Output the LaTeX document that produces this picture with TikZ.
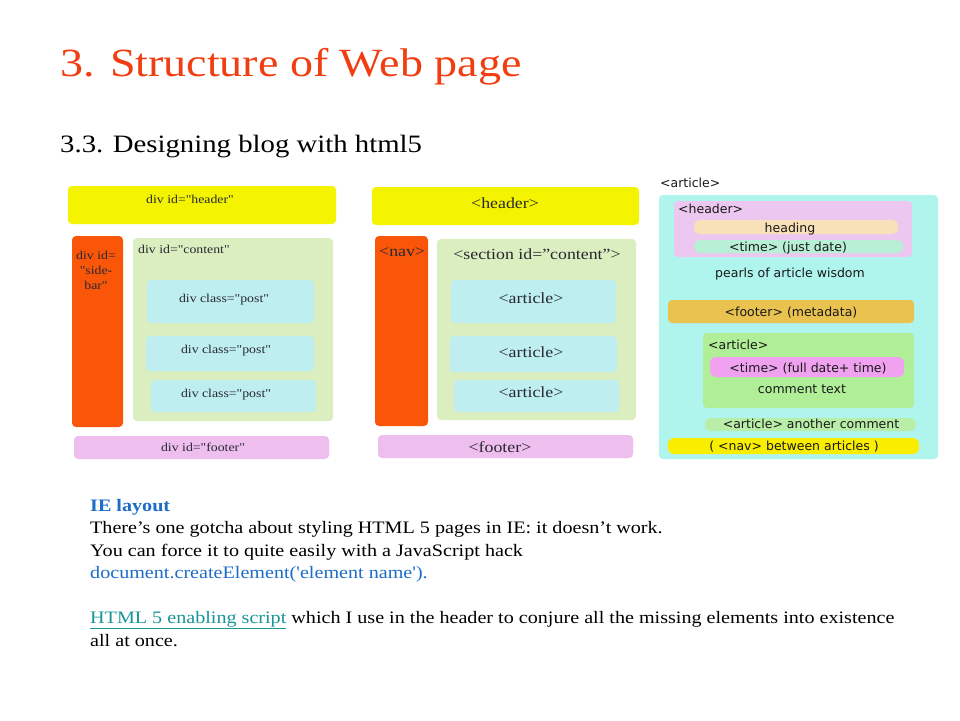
\documentclass[tikz,border=0pt]{standalone}
\usepackage{fontspec}
\setmainfont{Liberation Serif}
\newfontfamily\geo[FakeStretch=1.15]{Liberation Serif}
\newfontfamily\verd{DejaVu Sans}
\usepackage{xcolor}
\definecolor{titlered}{RGB}{240,62,18}
\definecolor{linkblue}{RGB}{30,108,200}
\definecolor{linkteal}{RGB}{24,150,150}
\definecolor{ink}{RGB}{40,40,48}
\definecolor{yel}{RGB}{244,244,0}
\definecolor{navyel}{RGB}{250,238,0}
\definecolor{orng}{RGB}{250,86,10}
\definecolor{lgreen}{RGB}{218,238,192}
\definecolor{lcyan}{RGB}{190,238,240}
\definecolor{lpink}{RGB}{238,190,238}
\definecolor{acyan}{RGB}{176,244,238}
\definecolor{hpink}{RGB}{236,200,240}
\definecolor{peach}{RGB}{248,224,184}
\definecolor{mint}{RGB}{184,240,214}
\definecolor{gold}{RGB}{234,194,80}
\definecolor{cgreen}{RGB}{176,238,152}
\definecolor{tpink}{RGB}{240,162,240}
\definecolor{agreen}{RGB}{184,238,168}

\begin{document}
\begin{tikzpicture}[x=1pt,y=-1pt,
  box/.style={rounded corners=4pt,inner sep=0pt,minimum width=#1},
  pill/.style={rounded corners=6pt,inner sep=0pt,minimum width=#1},
  ltxt/.style={font=\geo\fontsize{12}{13}\selectfont,text=ink,inner sep=0pt},
  mtxt/.style={font=\geo\fontsize{15.5}{17}\selectfont,text=ink,inner sep=0pt},
  rtxt/.style={font=\verd\fontsize{12.5}{14}\selectfont,text=black!90,inner sep=0pt},
  body/.style={font=\geo\fontsize{17.5}{20}\selectfont,inner sep=0pt,anchor=base west}]
  \useasboundingbox[fill=white] (0,0) rectangle (960,720);

  \node[font=\geo\fontsize{40}{44}\selectfont,text=titlered,anchor=base west,inner sep=0pt] (title) at (60,76) {3. Structure of Web page};
  \node[font=\geo\fontsize{25}{28}\selectfont,anchor=base west,inner sep=0pt] (subtitle) at (60,152) {3.3. Designing blog with html5};

  % div layout
  \node[box=268,minimum height=38,fill=yel] (lhead) at (202,205) {};
  \node[box=51,minimum height=191,fill=orng] (lside) at (97.5,331.5) {};
  \node[box=200,minimum height=183,fill=lgreen] (lcont) at (233,329.5) {};
  \node[box=167,minimum height=43,fill=lcyan] (lpost1) at (230.5,301.5) {};
  \node[box=168,minimum height=35,fill=lcyan] (lpost2) at (230,353.5) {};
  \node[box=165,minimum height=32,fill=lcyan] (lpost3) at (233.5,396) {};
  \node[box=255,minimum height=23,fill=lpink] (lfoot) at (201.5,447.5) {};
  \node[ltxt,anchor=base] (lheadtxt) at (190,203) {div id="header"};
  \node[ltxt,anchor=north,align=center] (lsidetxt) at (96,251) {div id=\\[2pt]"side-\\[2pt]bar"};
  \node[ltxt,anchor=base west] (lconttxt) at (138,253) {div id="content"};
  \node[ltxt,anchor=base] (lpost1txt) at (224,302) {div class="post"};
  \node[ltxt,anchor=base] (lpost2txt) at (226,353) {div class="post"};
  \node[ltxt,anchor=base] (lpost3txt) at (226,397) {div class="post"};
  \node[ltxt,anchor=base] (lfoottxt) at (203,451) {div id="footer"};

  % html5 layout
  \node[box=267,minimum height=38,fill=yel] (mhead) at (505.5,206) {};
  \node[box=53,minimum height=190,fill=orng] (mnav) at (401.5,331) {};
  \node[box=199,minimum height=181,fill=lgreen] (msec) at (536.5,329.5) {};
  \node[box=165,minimum height=43,fill=lcyan] (mart1) at (533.5,301.5) {};
  \node[box=167,minimum height=36,fill=lcyan] (mart2) at (533.5,354) {};
  \node[box=165,minimum height=32,fill=lcyan] (mart3) at (536.5,396) {};
  \node[box=255,minimum height=23,fill=lpink] (mfoot) at (505.5,446.5) {};
  \node[mtxt,anchor=base] (mheadtxt) at (505,208) {<header>};
  \node[mtxt,anchor=base west] (mnavtxt) at (379,256) {<nav>};
  \node[mtxt,anchor=base] (msectxt) at (537,259) {<section id=”content”>};
  \node[mtxt,anchor=base] (mart1txt) at (531,303) {<article>};
  \node[mtxt,anchor=base] (mart2txt) at (531,357) {<article>};
  \node[mtxt,anchor=base] (mart3txt) at (531,397) {<article>};
  \node[mtxt,anchor=base] (mfoottxt) at (500,452) {<footer>};

  % article detail
  \node[rtxt,anchor=base west] (rarttxt) at (660,187) {<article>};
  \node[box=279,minimum height=264,fill=acyan] (rart) at (798.5,327) {};
  \node[box=238,minimum height=56,fill=hpink] (rhead) at (793,229) {};
  \node[pill=204,minimum height=14,fill=peach] (rheading) at (796,227) {};
  \node[pill=209,minimum height=13,fill=mint] (rtime) at (798.5,246.5) {};
  \node[box=246,minimum height=23,fill=gold] (rfoot) at (791,311.5) {};
  \node[box=211,minimum height=75,fill=cgreen] (rcom) at (808.5,370.5) {};
  \node[pill=194,minimum height=20,fill=tpink] (rctime) at (807,367) {};
  \node[pill=211,minimum height=13,fill=agreen] (rcom2) at (810.5,424.5) {};
  \node[pill=251,minimum height=16,fill=navyel] (rnav) at (793.5,446) {};
  \node[rtxt,anchor=base west] (rheadtxt) at (678,213) {<header>};
  \node[rtxt,anchor=base] (rheadingtxt) at (790,232) {heading};
  \node[rtxt,anchor=base] (rtimetxt) at (788,251) {<time> (just date)};
  \node[rtxt,anchor=base] (rpearls) at (790,277) {pearls of article wisdom};
  \node[rtxt,anchor=base] (rfoottxt) at (791,316) {<footer> (metadata)};
  \node[rtxt,anchor=base west] (rcomtxt) at (708,349) {<article>};
  \node[rtxt,anchor=base] (rctimetxt) at (808,372) {<time> (full date+ time)};
  \node[rtxt,anchor=base] (rcomment) at (802,393) {comment text};
  \node[rtxt,anchor=base] (rcom2txt) at (811,428) {<article> another comment};
  \node[rtxt,anchor=base] (rnavtxt) at (794,450) {( <nav> between articles )};

  % notes
  \node[body,text=linkblue,font=\geo\bfseries\fontsize{17.5}{20}\selectfont] (ie) at (90,511) {IE layout};
  \node[body] (line1) at (90,533) {There’s one gotcha about styling HTML 5 pages in IE: it doesn’t work.};
  \node[body] (line2) at (90,556) {You can force it to quite easily with a JavaScript hack};
  \node[body,text=linkblue] (line3) at (90,578) {document.createElement('element name').};
  \node[body] (line4) at (90,623) {\textcolor{linkteal}{\underline{HTML 5 enabling script}} which I use in the header to conjure all the missing elements into existence};
  \node[body] (line5) at (90,646) {all at once.};
\end{tikzpicture}
\end{document}
